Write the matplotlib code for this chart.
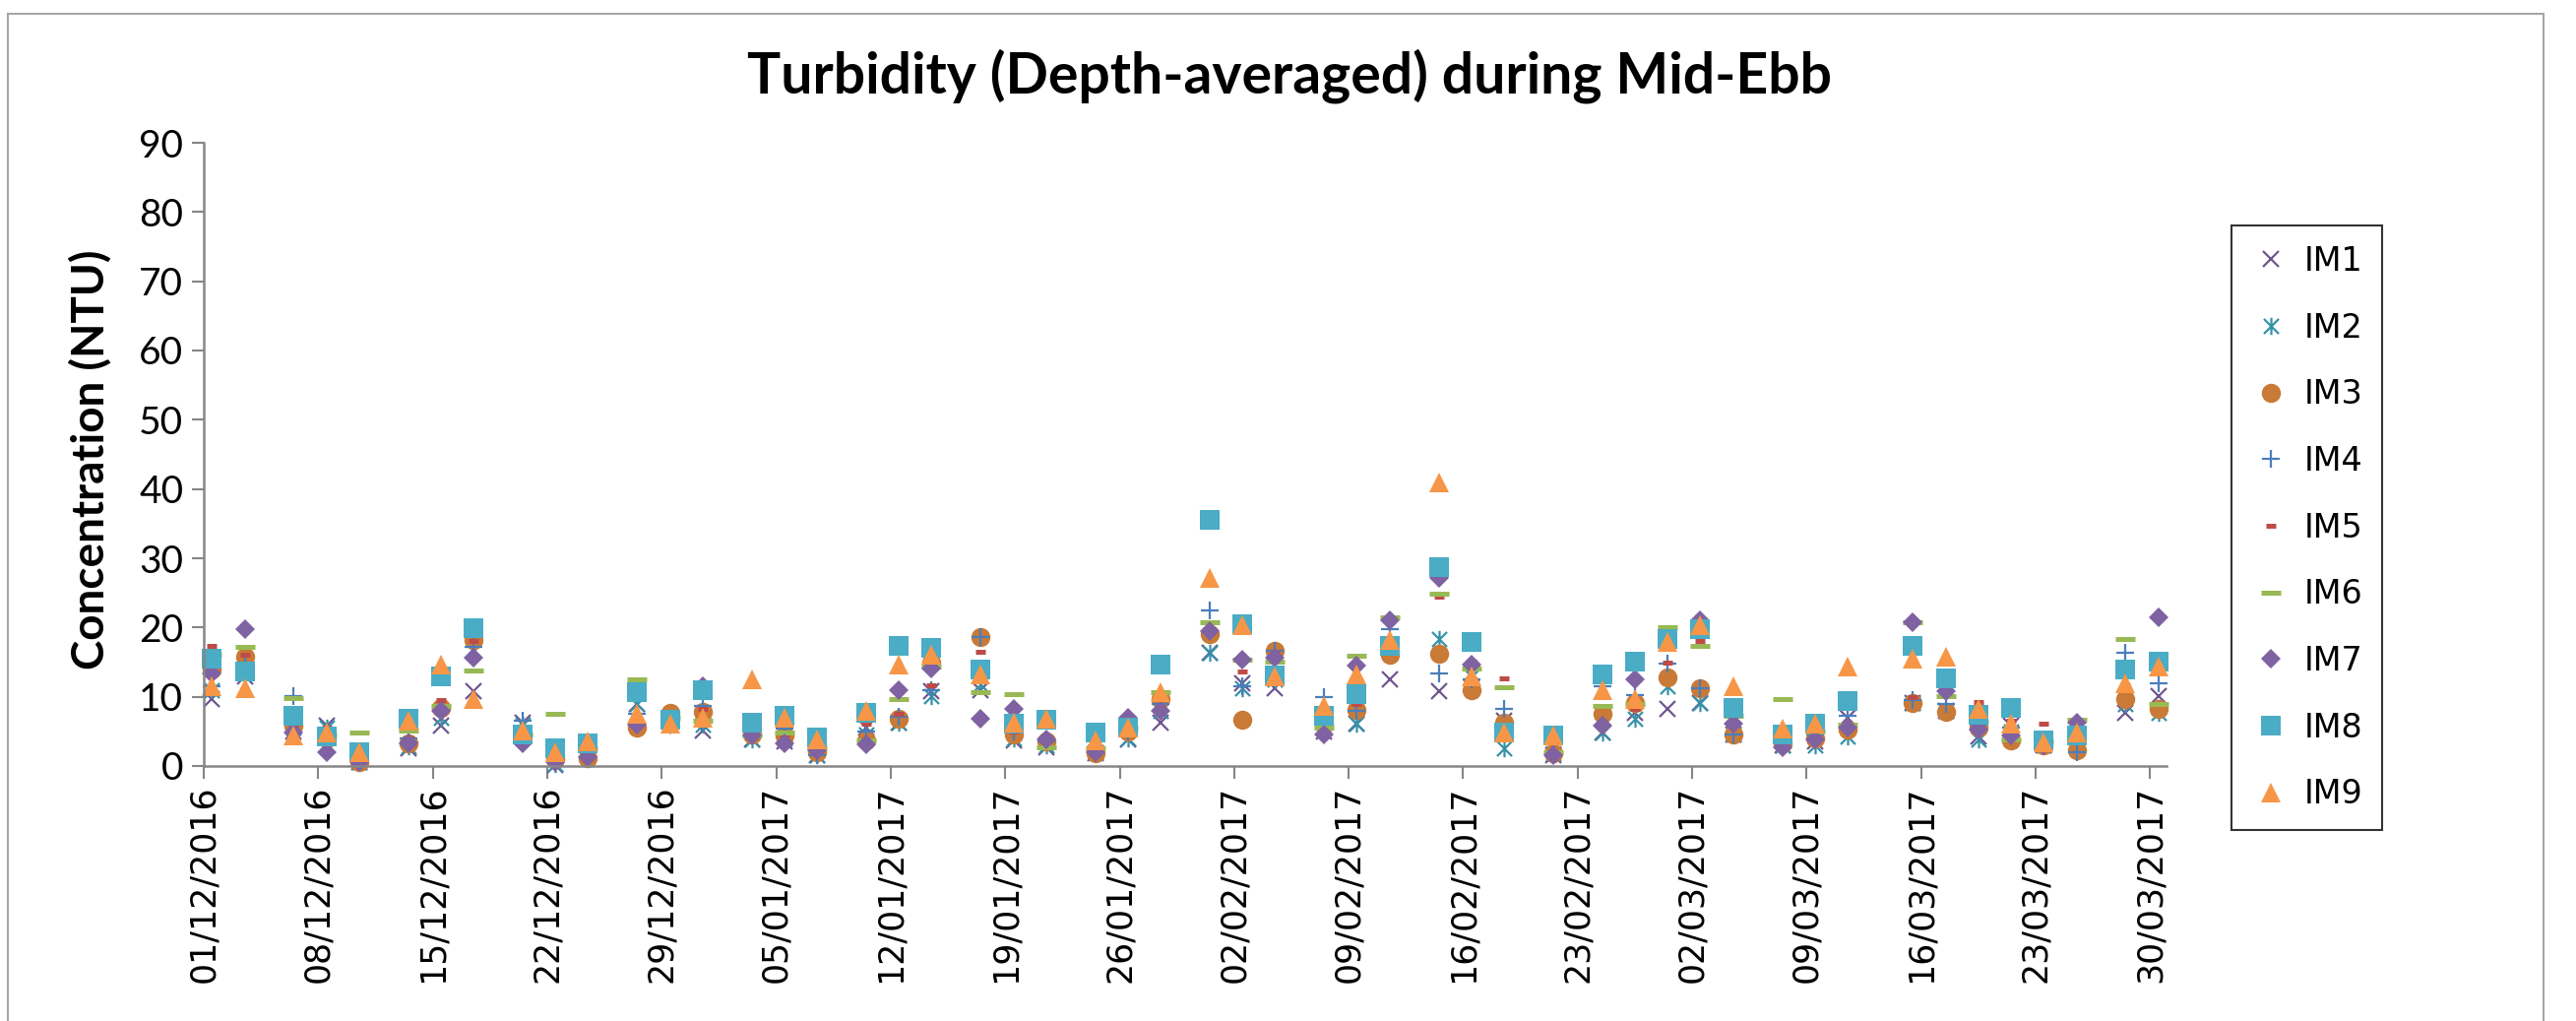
import matplotlib
matplotlib.use("Agg")
import matplotlib.pyplot as plt
import matplotlib.dates as mdates
from matplotlib.path import Path
import numpy as np
import datetime as dt

# ---------------- data ----------------
dates = ["2016-12-01","2016-12-03","2016-12-06","2016-12-08","2016-12-10","2016-12-13",
         "2016-12-15","2016-12-17","2016-12-20","2016-12-22","2016-12-24","2016-12-27",
         "2016-12-29","2016-12-31","2017-01-03","2017-01-05","2017-01-07","2017-01-10",
         "2017-01-12","2017-01-14","2017-01-17","2017-01-19","2017-01-21","2017-01-24",
         "2017-01-26","2017-01-28","2017-01-31","2017-02-02","2017-02-04","2017-02-07",
         "2017-02-09","2017-02-11","2017-02-14","2017-02-16","2017-02-18","2017-02-21",
         "2017-02-24","2017-02-26","2017-02-28","2017-03-02","2017-03-04","2017-03-07",
         "2017-03-09","2017-03-11","2017-03-15","2017-03-17","2017-03-19","2017-03-21",
         "2017-03-23","2017-03-25","2017-03-28","2017-03-30"]

IM1 = [9.7,13.0,5.0,5.8,0.5,2.5,5.8,10.8,6.2,0.1,1.5,8.9,6.0,5.1,3.9,3.5,1.5,5.6,6.3,10.8,11.0,
       3.7,2.7,1.8,3.9,6.3,16.3,12.0,11.3,5.0,6.1,12.5,10.8,13.4,6.5,1.5,4.9,7.7,8.2,9.1,4.5,
       3.0,3.5,7.0,9.1,8.0,4.2,5.8,3.0,4.5,7.7,10.1]
IM2 = [11.0,13.5,5.5,5.6,0.5,2.8,7.0,16.7,6.0,0.3,1.8,8.9,6.5,6.0,3.9,4.0,1.5,4.6,6.3,10.1,11.8,
       4.0,3.0,2.0,4.0,8.0,16.3,11.3,12.5,5.5,6.1,16.5,18.4,12.9,2.5,1.8,4.9,6.8,11.5,9.1,4.5,
       3.0,3.0,4.2,9.1,8.0,3.9,5.0,3.0,4.5,9.0,7.7]
IM3 = [14.0,15.8,5.8,4.0,0.6,3.2,8.4,18.2,4.5,1.0,1.1,5.5,7.7,7.8,4.5,4.4,2.0,3.7,6.8,15.0,18.6,
       4.6,3.5,1.8,5.0,9.6,19.1,6.7,16.7,6.0,8.1,16.0,16.2,10.9,6.3,1.8,7.6,9.1,12.8,11.3,4.6,
       3.2,4.0,5.3,9.1,7.8,5.5,3.7,3.0,2.3,9.6,8.3]
IM4 = [11.5,15.0,10.1,5.0,1.0,4.0,8.0,17.2,6.5,0.5,2.0,7.5,6.5,8.7,4.5,5.4,1.6,5.0,7.1,11.0,18.6,
       5.0,3.5,2.5,5.0,9.0,22.4,11.5,16.7,9.9,8.0,19.8,13.4,12.5,8.3,2.0,11.5,10.3,14.8,11.3,4.6,
       3.5,4.5,7.3,9.5,9.0,6.0,5.5,3.0,2.0,16.3,12.0]
IM5 = [17.4,16.0,6.0,5.6,1.5,4.0,9.5,18.1,5.0,1.5,2.0,10.0,7.0,8.2,5.0,4.5,2.5,6.1,7.5,11.7,16.5,
       5.0,3.5,3.2,7.3,7.7,20.8,13.6,16.4,7.0,9.0,18.0,24.5,15.1,12.6,1.1,9.9,8.2,14.9,18.1,6.0,
       4.0,5.0,6.0,10.0,10.9,9.2,6.5,6.1,6.1,11.6,9.0]
IM6 = [16.0,17.2,9.8,4.5,4.8,5.1,8.7,13.8,4.5,7.6,2.5,12.5,7.0,6.5,4.4,4.9,2.5,3.7,9.6,14.4,10.7,
       10.4,2.7,2.5,5.5,10.6,20.8,15.4,15.1,5.6,15.9,21.4,24.9,14.1,11.4,2.0,8.7,9.0,20.1,17.4,7.3,
       9.7,5.0,6.0,20.8,10.1,6.4,3.8,3.5,6.7,18.3,9.0]
IM7 = [13.4,19.7,4.9,2.0,0.6,3.2,8.0,15.7,3.2,0.6,1.3,6.0,6.0,11.5,4.4,3.2,2.3,3.1,10.9,14.1,6.8,
       8.2,3.9,2.0,7.0,8.0,19.5,15.3,15.6,4.6,14.5,21.1,27.2,14.6,5.0,1.5,5.9,12.5,18.0,21.0,6.1,
       2.7,3.9,5.5,20.8,10.8,5.3,4.4,3.0,6.3,14.0,21.4]
IM8 = [15.5,13.6,7.3,4.2,2.0,6.8,12.9,19.9,4.6,2.5,3.2,10.6,6.7,10.9,6.3,7.2,4.1,7.7,17.3,17.0,13.9,
       6.1,6.7,4.8,5.5,14.7,35.6,20.5,13.1,7.3,10.4,17.4,28.7,17.9,4.9,4.4,13.2,15.1,18.3,19.8,8.4,
       4.6,6.1,9.4,17.3,12.7,7.4,8.4,3.7,4.4,14.0,15.1]
IM9 = [11.5,11.3,4.4,4.9,2.0,6.5,14.6,9.6,5.1,2.0,3.5,7.5,6.1,7.0,12.5,7.0,3.9,8.0,14.6,16.0,13.2,
       6.3,6.8,3.7,5.6,10.6,27.2,20.3,12.9,8.7,13.2,18.2,40.9,12.9,4.9,4.4,10.9,9.6,17.9,20.4,11.5,
       5.4,6.1,14.4,15.5,15.8,8.2,6.1,3.4,4.9,12.0,14.3]

series_names = ["IM1","IM2","IM3","IM4","IM5","IM6","IM7","IM8","IM9"]
series_values = [IM1, IM2, IM3, IM4, IM5, IM6, IM7, IM8, IM9]

title = "Turbidity (Depth-averaged) during Mid-Ebb"
ylabel = "Concentration (NTU)"
tick_start = "2016-12-01"
tick_end = "2017-03-30"
axis_end = "2017-03-31"

# ---------------- styles ----------------
asterisk = Path([(-1, -1), (1, 1), (-1, 1), (1, -1), (0, -1.15), (0, 1.15)],
                [Path.MOVETO, Path.LINETO, Path.MOVETO, Path.LINETO, Path.MOVETO, Path.LINETO])

styles = {
    "IM1": dict(marker="x", ms=11.5, mew=1.6, color="#6f5590"),
    "IM2": dict(marker=asterisk, ms=12.5, mew=1.6, color="#3592a8"),
    "IM3": dict(marker="o", ms=14.0, mew=0, color="#c97a36"),
    "IM4": dict(marker="+", ms=13.0, mew=1.6, color="#4a7ebb"),
    "IM5": dict(marker="_", ms=7.5, mew=3.6, color="#be4b48"),
    "IM6": dict(marker="_", ms=14.0, mew=3.6, color="#98b954"),
    "IM7": dict(marker="D", ms=10.0, mew=0, color="#7f62a1"),
    "IM8": dict(marker="s", ms=14.0, mew=0, color="#4aacc5"),
    "IM9": dict(marker="^", ms=14.5, mew=0, color="#f79646"),
}

W, H = 2617, 1037
fig = plt.figure(figsize=(W / 100, H / 100), dpi=100)
fig.patch.set_facecolor("white")

# chart outer border
border_col = "#a6a6a6"
fig.add_artist(plt.Line2D([8 / W, 8 / W], [0, 1 - 14 / H], color=border_col, lw=1.5))
fig.add_artist(plt.Line2D([8 / W, 2584 / W], [1 - 14 / H, 1 - 14 / H], color=border_col, lw=1.5))
fig.add_artist(plt.Line2D([2584 / W, 2584 / W], [0, 1 - 14 / H], color=border_col, lw=1.5))

ax = fig.add_axes([207 / W, 1 - 778 / H, (2201 - 207) / W, (778 - 145) / H])

xd = [dt.datetime.strptime(s, "%Y-%m-%d") + dt.timedelta(hours=12) for s in dates]

for name, vals in zip(series_names, series_values):
    st = styles[name]
    ax.plot(xd, vals, linestyle="none", marker=st["marker"], markersize=st["ms"],
            markeredgewidth=st["mew"], color=st["color"], markeredgecolor=st["color"],
            markerfacecolor=st["color"], label=name, clip_on=False)

x0 = dt.datetime.strptime(tick_start, "%Y-%m-%d")
x1 = dt.datetime.strptime(axis_end, "%Y-%m-%d")
ax.set_xlim(x0, x1)
ax.set_ylim(0, 90)
ax.set_yticks(np.arange(0, 91, 10))
ticks = []
t = x0
tend = dt.datetime.strptime(tick_end, "%Y-%m-%d")
while t <= tend:
    ticks.append(t)
    t += dt.timedelta(days=7)
ax.set_xticks(ticks)
ax.xaxis.set_major_formatter(mdates.DateFormatter("%d/%m/%Y"))

axis_col = "#868686"
for s in ["top", "right"]:
    ax.spines[s].set_visible(False)
for s in ["left", "bottom"]:
    ax.spines[s].set_color(axis_col)
    ax.spines[s].set_linewidth(1.8)
ax.tick_params(axis="both", direction="out", length=9, width=1.5, color=axis_col)
ax.tick_params(axis="y", labelsize=28, pad=6)
ax.tick_params(axis="x", labelsize=25, pad=5, labelrotation=90)
for lab in ax.get_yticklabels():
    lab.set_fontfamily("Lato")
for lab in ax.get_xticklabels():
    lab.set_fontfamily("DejaVu Sans")

fig.text(1310 / W, 1 - 77 / H, title, ha="center", va="center", fontsize=41,
         fontweight="bold", family="Lato")
fig.text(92 / W, 1 - 467 / H, ylabel, ha="center", va="center", rotation=90,
         fontsize=33, fontweight="bold", family="Lato")

leg = ax.legend(loc="upper left", bbox_to_anchor=(2267 / W, 1 - 229 / H),
                bbox_transform=fig.transFigure, frameon=True, fancybox=False,
                edgecolor="black", labelspacing=1.04, handlelength=1.2,
                handletextpad=0.4, borderpad=0.6, borderaxespad=0, numpoints=1,
                prop={"family": "DejaVu Sans", "size": 24})
leg.get_frame().set_linewidth(1.5)

fig.savefig("out.png", dpi=100, facecolor="white")
